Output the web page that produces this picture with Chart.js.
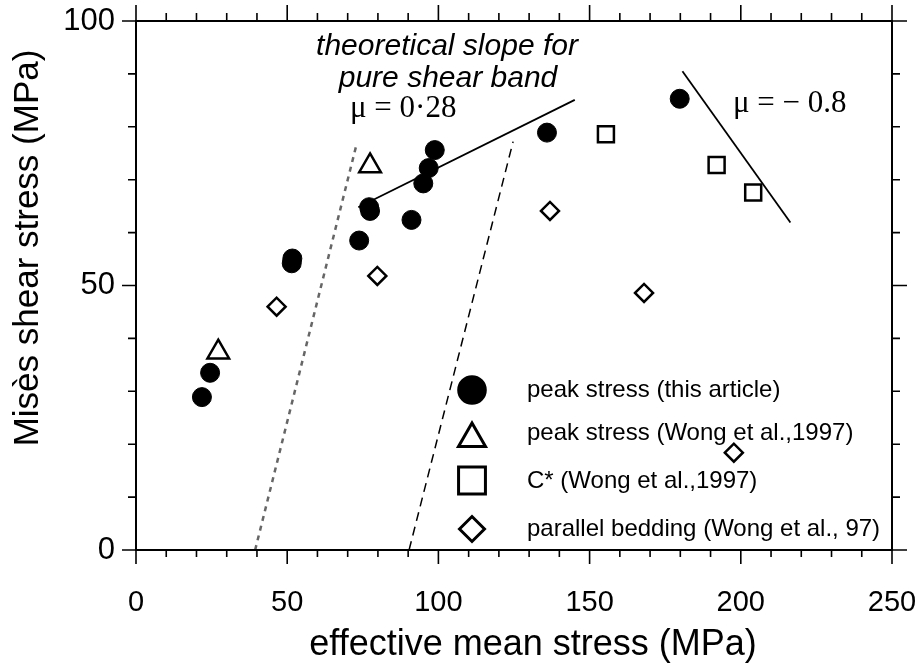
<!DOCTYPE html>
<html>
<head>
<meta charset="utf-8">
<script src="https://cdn.jsdelivr.net/npm/chart.js@4/dist/chart.umd.min.js"></script>
<style>
  html, body { margin: 0; padding: 0; background: #fff; }
</style>
</head>
<body>
<canvas id="c" width="920" height="663"></canvas>
<script>
// peak stress (this article)
const peakX = [21.8, 24.5, 51.5, 51.7, 73.8, 77.1, 77.4, 91.1, 95.0, 96.8, 98.8, 135.9, 179.8];
const peakY = [28.9, 33.5, 54.2, 55.1, 58.5, 64.8, 64.1, 62.4, 69.3, 72.2, 75.6, 78.9, 85.3];
// peak stress (Wong et al., 1997)
const wongPeakX = [27.2, 77.4];
const wongPeakY = [37.4, 72.6];
// C* (Wong et al., 1997)
const cStarX = [155.4, 192.0, 204.1];
const cStarY = [78.6, 72.8, 67.6];
// parallel bedding
const beddingX = [46.5, 79.8, 136.9, 168.0, 197.7];
const beddingY = [46.0, 51.8, 64.1, 48.6, 18.4];
// reference lines
const slopeLineX = [73.5, 145.1];
const slopeLineY = [64.8, 85.1];
const negLineX = [180.7, 216.4];
const negLineY = [90.5, 61.9];
const dashLeftX = [39.4, 72.9];
const dashLeftY = [0, 76.6];
const dashRightX = [90.3, 124.7];
const dashRightY = [0, 77.2];

const xTicks = [0, 50, 100, 150, 200, 250];
const yTicks = [0, 50, 100];

const SANS = '"Liberation Sans", Arial, sans-serif';
const SERIF = '"Liberation Serif", "Times New Roman", serif';

const pts = (xs, ys) => xs.map((x, i) => ({ x: x, y: ys[i] }));

const lineSet = (xs, ys, color, width, dash) => ({
  type: 'line',
  data: pts(xs, ys),
  borderColor: color,
  borderWidth: width,
  borderDash: dash,
  pointRadius: 0,
  fill: false,
  showLine: true
});

const legendItems = [
  { label: 'peak stress (this article)', style: 'circle', r: 13.3, fill: '#000', y: 390, ty: 397 },
  { label: 'peak stress (Wong et al.,1997)', style: 'triangle', r: 15.6, fill: '#fff', y: 438.6, ty: 440 },
  { label: 'C* (Wong et al.,1997)', style: 'rect', r: 19, fill: '#fff', y: 480.5, ty: 488 },
  { label: 'parallel bedding (Wong et al., 97)', style: 'rectRot', r: 12.5, fill: '#fff', y: 529, ty: 536 }
];

const framePlugin = {
  id: 'frame',
  afterDraw(chart) {
    const ctx = chart.ctx;
    const xs = chart.scales.x, ys = chart.scales.y;
    const a = chart.chartArea;
    ctx.save();
    ctx.strokeStyle = '#000';
    ctx.lineWidth = 2;
    ctx.strokeRect(a.left, a.top, a.right - a.left, a.bottom - a.top);

    // ticks pointing outward on all four sides
    ctx.lineWidth = 1.6;
    ctx.beginPath();
    for (let v = 0; v <= 250; v += 10) {
      const major = v % 50 === 0;
      const px = xs.getPixelForValue(v);
      ctx.moveTo(px, a.bottom); ctx.lineTo(px, a.bottom + (major ? 14 : 7));
      ctx.moveTo(px, a.top); ctx.lineTo(px, a.top - (major ? 16 : 8));
    }
    for (let v = 0; v <= 100; v += 10) {
      const major = v % 50 === 0;
      const py = ys.getPixelForValue(v);
      ctx.moveTo(a.left, py); ctx.lineTo(a.left - (major ? 14 : 8), py);
      ctx.moveTo(a.right, py); ctx.lineTo(a.right + (major ? 15 : 8), py);
    }
    ctx.stroke();

    // axis titles
    ctx.fillStyle = '#000';
    ctx.font = '36px ' + SANS;
    ctx.textAlign = 'center';
    ctx.textBaseline = 'alphabetic';
    ctx.fillText('effective mean stress (MPa)', 533, 655);
    ctx.save();
    ctx.translate(38, 248);
    ctx.rotate(-Math.PI / 2);
    ctx.font = '35px ' + SANS;
    ctx.fillText('Misès shear stress (MPa)', 0, 0);
    ctx.restore();

    // annotations
    ctx.font = 'italic 30px ' + SANS;
    ctx.fillText('theoretical slope for', 447, 55);
    ctx.fillText('pure shear band', 448, 87);
    ctx.textAlign = 'left';
    ctx.font = '31px ' + SERIF;
    ctx.fillText('\u03bc = 0\u00b728', 350, 117);
    ctx.font = '31px ' + SERIF;
    ctx.fillText('\u03bc = \u2212 0.8', 733, 112);

    // legend
    ctx.font = '24px ' + SANS;
    legendItems.forEach(it => {
      ctx.fillStyle = it.fill;
      ctx.strokeStyle = '#000';
      ctx.lineWidth = 3;
      Chart.helpers.drawPoint(ctx, { pointStyle: it.style, radius: it.r, rotation: 0, borderWidth: 3 }, 472, it.y);
      ctx.fillStyle = '#000';
      ctx.fillText(it.label, 527, it.ty);
    });
    ctx.restore();
  }
};

new Chart(document.getElementById('c'), {
  type: 'scatter',
  data: {
    datasets: [
      {
        label: 'peak stress (this article)',
        data: pts(peakX, peakY),
        pointStyle: 'circle',
        pointRadius: 9.5,
        backgroundColor: '#000',
        borderColor: '#000',
        borderWidth: 1
      },
      {
        label: 'peak stress (Wong et al.,1997)',
        data: pts(wongPeakX, wongPeakY),
        pointStyle: 'triangle',
        pointRadius: 12.5,
        backgroundColor: 'rgba(255,255,255,0)',
        borderColor: '#000',
        borderWidth: 2.5
      },
      {
        label: 'C* (Wong et al.,1997)',
        data: pts(cStarX, cStarY),
        pointStyle: 'rect',
        pointRadius: 11.3,
        backgroundColor: 'rgba(255,255,255,0)',
        borderColor: '#000',
        borderWidth: 2.5
      },
      {
        label: 'parallel bedding (Wong et al., 97)',
        data: pts(beddingX, beddingY),
        pointStyle: 'rectRot',
        pointRadius: 9,
        backgroundColor: 'rgba(255,255,255,0)',
        borderColor: '#000',
        borderWidth: 2.5
      },
      lineSet(slopeLineX, slopeLineY, '#000', 1.8, []),
      lineSet(negLineX, negLineY, '#000', 1.8, []),
      lineSet(dashLeftX, dashLeftY, '#666', 2.5, [5, 5]),
      lineSet(dashRightX, dashRightY, '#000', 1.5, [9, 6])
    ]
  },
  options: {
    responsive: false,
    animation: false,
    devicePixelRatio: 1,
    layout: { padding: { left: 0, right: 28, top: 21, bottom: 0 } },
    plugins: {
      legend: { display: false },
      tooltip: { enabled: false }
    },
    scales: {
      x: {
        type: 'linear',
        min: 0,
        max: 250,
        afterFit(scale) {
          scale.height = 113;
          scale.paddingLeft = 0;
          scale.paddingRight = 0;
        },
        afterBuildTicks(scale) { scale.ticks = xTicks.map(v => ({ value: v })); },
        grid: { display: false, drawTicks: false },
        border: { display: false },
        ticks: {
          color: '#000',
          padding: 36,
          maxRotation: 0,
          font: { family: SANS, size: 29 }
        }
      },
      y: {
        type: 'linear',
        min: 0,
        max: 100,
        afterFit(scale) {
          scale.width = 136;
          scale.paddingTop = 0;
          scale.paddingBottom = 0;
        },
        afterBuildTicks(scale) { scale.ticks = yTicks.map(v => ({ value: v })); },
        grid: { display: false, drawTicks: false },
        border: { display: false },
        ticks: {
          color: '#000',
          padding: 21,
          font: { family: SANS, size: 31 }
        }
      }
    }
  },
  plugins: [framePlugin]
});
</script>
</body>
</html>
